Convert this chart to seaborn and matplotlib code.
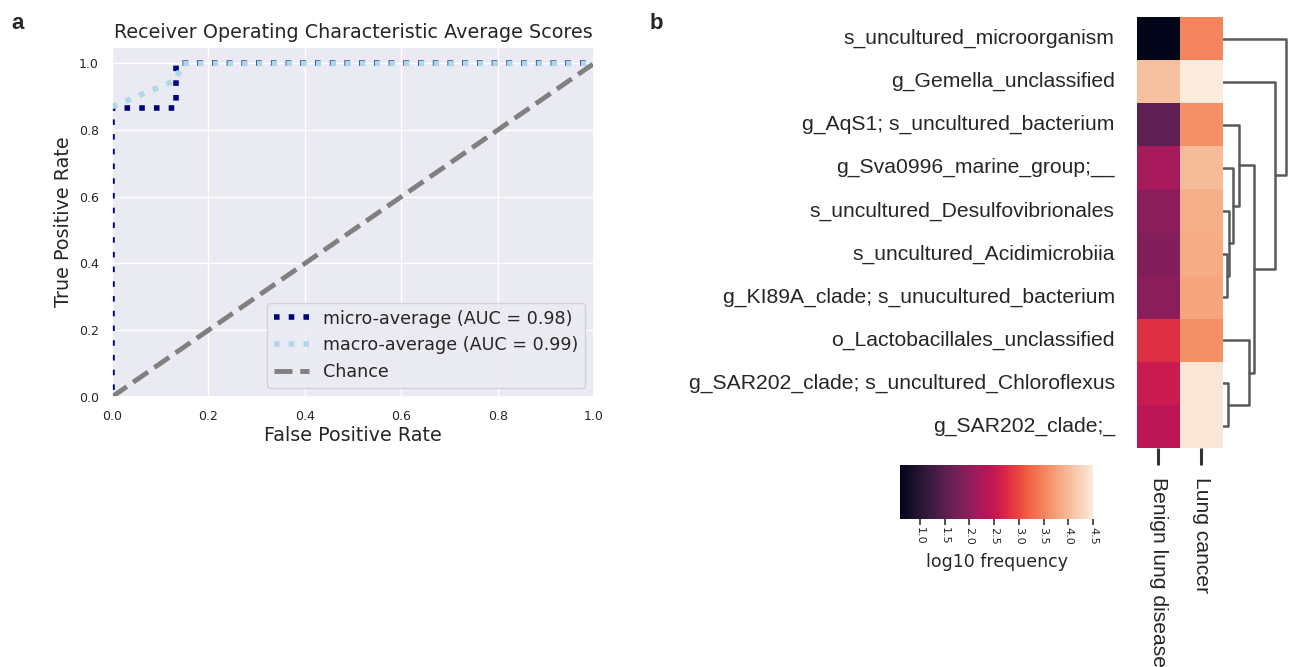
import numpy as np
import pandas as pd
import seaborn as sns
import matplotlib.pyplot as plt

# ROC curves
micro_fpr = [0.0, 0.0, 0.133, 0.133, 1.0]
micro_tpr = [0.0, 0.867, 0.867, 1.0, 1.0]
macro_fpr = [0.0, 0.133, 0.145, 1.0]
macro_tpr = [0.87, 0.95, 1.0, 1.0]
chance = [0.0, 1.0]
micro_auc = 0.98
macro_auc = 0.99

# heatmap (log10 frequency)
taxa = ["s_uncultured_microorganism", "g_Gemella_unclassified",
        "g_AqS1; s_uncultured_bacterium", "g_Sva0996_marine_group;__",
        "s_uncultured_Desulfovibrionales", "s_uncultured_Acidimicrobiia",
        "g_KI89A_clade; s_unucultured_bacterium", "o_Lactobacillales_unclassified",
        "g_SAR202_clade; s_uncultured_Chloroflexus", "g_SAR202_clade;_"]
groups = ["Benign lung disease", "Lung cancer"]
benign = [0.6, 4.05, 1.55, 2.2, 1.97, 1.88, 1.95, 2.8, 2.55, 2.4]
cancer = [3.5, 4.5, 3.6, 4.02, 3.9, 3.87, 3.8, 3.6, 4.45, 4.45]
cbar_ticks = [1.0, 1.5, 2.0, 2.5, 3.0, 3.5, 4.0, 4.5]

# row dendrogram: (left, right, height); new nodes numbered from 10 on
linkage = [(5, 6, 4.0), (4, 10, 5.7), (3, 11, 9.7), (2, 12, 15.7),
           (8, 9, 4.7), (7, 14, 26.0), (13, 15, 31.0), (1, 16, 52.0),
           (0, 17, 63.0)]

sns.set_theme(style="darkgrid")
fig = plt.figure(figsize=(12.92, 6.67), dpi=100)

# ---- panel a ----
ax = fig.add_axes([0.0867, 0.405, 0.3731, 0.525])
# dash offset so the micro dots sit under the macro dots along TPR = 1
ax.plot(micro_fpr, micro_tpr, color="navy", linestyle=(1.375, (1, 1.65)), linewidth=4,
        label="micro-average (AUC = {:.2f})".format(micro_auc))
ax.plot(macro_fpr, macro_tpr, color="lightblue", linestyle=":", linewidth=4,
        label="macro-average (AUC = {:.2f})".format(macro_auc))
ax.plot(chance, chance, color="grey", linestyle="--", linewidth=3.5,
        label="Chance")
ax.set_xlim(0.0, 1.0)
ax.set_ylim(0.0, 1.05)
ax.set_xticks([0.0, 0.2, 0.4, 0.6, 0.8, 1.0])
ax.set_yticks([0.0, 0.2, 0.4, 0.6, 0.8, 1.0])
ax.tick_params(labelsize=9)
ax.set_xlabel("False Positive Rate", fontsize=13.8, labelpad=2)
ax.set_ylabel("True Positive Rate", fontsize=13.8)
ax.set_title("Receiver Operating Characteristic Average Scores", fontsize=13.8)
leg = ax.legend(loc="lower right", fontsize=12.6)
leg.get_lines()[0].set_linestyle(":")

# ---- panel b ----
df = pd.DataFrame({groups[0]: benign, groups[1]: cancer}, index=taxa)
hax = fig.add_axes([0.8798, 0.3283, 0.0666, 0.6462])
cax = fig.add_axes([0.6966, 0.2219, 0.1494, 0.081])
sns.heatmap(df, cmap="rocket", ax=hax, cbar_ax=cax,
            cbar_kws={"orientation": "horizontal", "ticks": cbar_ticks})
hax.grid(False)
hax.tick_params(axis="y", left=False, length=0, pad=15.8)
hax.tick_params(axis="x", bottom=True, length=12, width=2.2, color="0.2", pad=9)
for t in hax.get_yticklabels():
    t.set_fontfamily("Liberation Sans")
    t.set_fontsize(15.2)
    t.set_rotation(0)
for t in hax.get_xticklabels():
    t.set_fontfamily("Liberation Sans")
    t.set_fontsize(15.2)
    t.set_rotation(270)
hax.set_xlabel("")
hax.set_ylabel("")

cax.tick_params(bottom=True, labelsize=8, length=4, width=1.2, color="0.2", pad=2)
for t in cax.get_xticklabels():
    t.set_rotation(270)
cax.set_xlabel("log10 frequency", fontsize=12.5, labelpad=6)
for s in cax.spines.values():
    s.set_visible(False)

# dendrogram on the right, drawn from the linkage list
dax = fig.add_axes([0.9466, 0.3283, 0.0503, 0.6462])
pos = {i: i + 0.5 for i in range(len(taxa))}
hgt = {i: 0.0 for i in range(len(taxa))}
for k, (a, b, h) in enumerate(linkage):
    n = len(taxa) + k
    dax.plot([hgt[a], h, h, hgt[b]], [pos[a], pos[a], pos[b], pos[b]],
             color="0.35", linewidth=1.8)
    pos[n] = (pos[a] + pos[b]) / 2
    hgt[n] = h
dax.set_ylim(len(taxa), 0)
dax.set_xlim(0, 65)
dax.set_facecolor("white")
dax.axis("off")

fig.text(0.009, 0.957, "a", fontsize=16, fontweight="bold", family="Liberation Sans")
fig.text(0.503, 0.957, "b", fontsize=16, fontweight="bold", family="Liberation Sans")

fig.savefig("out.png", dpi=100, facecolor="white")
